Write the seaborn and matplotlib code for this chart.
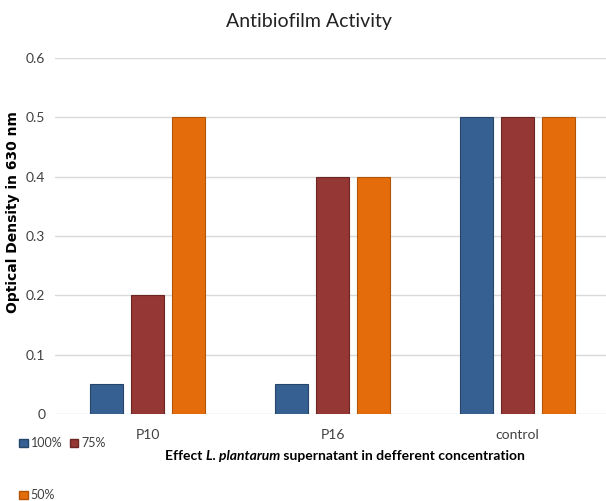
import matplotlib
matplotlib.use("Agg")
import matplotlib.pyplot as plt
import seaborn as sns
import pandas as pd
from matplotlib.patches import Patch

categories = ["P10", "P16", "control"]
series_names = ["100%", "75%", "50%"]
values_100 = [0.05, 0.05, 0.5]
values_75 = [0.2, 0.4, 0.5]
values_50 = [0.5, 0.4, 0.5]
yticks = [0, 0.1, 0.2, 0.3, 0.4, 0.5, 0.6]
ytick_labels = ["0", "0.1", "0.2", "0.3", "0.4", "0.5", "0.6"]

rows = []
for name, vals in zip(series_names, [values_100, values_75, values_50]):
    for c, v in zip(categories, vals):
        rows.append({"cat": c, "conc": name, "val": v})
df = pd.DataFrame(rows)

colors = ["#376092", "#953735", "#E46C0A"]
edges = ["#26456b", "#6b2624", "#b35508"]

sns.set_theme(style="white")
plt.rcParams["font.family"] = ["Lato", "DejaVu Sans"]

fig = plt.figure(figsize=(6.06, 5.01), dpi=100)
ax = fig.add_axes([55/606, 87/501, 555/606, 356/501])

sns.barplot(data=df, x="cat", y="val", hue="conc", hue_order=series_names,
            order=categories, palette=colors, width=0.665, gap=0.195,
            ax=ax, legend=False, saturation=1)

for i, cont in enumerate(ax.containers):
    for p in cont:
        p.set_edgecolor(edges[i])
        p.set_linewidth(0.8)

ax.set_ylim(0, 0.6)
ax.set_yticks(yticks)
ax.set_yticklabels(ytick_labels)
ax.set_xlim(-0.5, 2.5)
ax.yaxis.grid(True, color="#d9d9d9", linewidth=1)
ax.set_axisbelow(True)
for s in ax.spines.values():
    s.set_visible(False)
ax.tick_params(axis="y", length=0, pad=7, labelsize=10, labelcolor="#404040")
ax.tick_params(axis="x", length=0, pad=11, labelsize=10, labelcolor="#404040")
ax.set_xlabel("")
ax.set_ylabel("")

fig.text(13/606, 1 - 212/501, "Optical Density in 630 nm", rotation=90,
         ha="center", va="center", fontsize=10, fontweight="bold",
         color="black", family=["DejaVu Sans"])

fig.text(0.51, 1 - 22/501, "Antibiofilm Activity", ha="center", va="center",
         fontsize=14, color="#222222")

# x label with italic part
t1 = fig.text(165/606, 1 - 456/501, "Effect ", ha="left", va="center",
              fontsize=10, fontweight="bold", color="black")
t2 = ax.annotate("L. plantarum", xy=(1, 0), xycoords=t1, va="bottom", ha="left",
                 fontsize=10, fontweight="bold", style="italic", color="black",
                 annotation_clip=False)
t3 = ax.annotate(" supernatant in defferent concentration", xy=(1, 0), xycoords=t2,
                 va="bottom", ha="left", fontsize=10, fontweight="bold",
                 color="black", annotation_clip=False)

order = [0, 2, 1]
handles = [Patch(facecolor=colors[i], edgecolor=edges[i], label=series_names[i])
           for i in order]
fig.legend(handles=handles, loc="upper left", bbox_to_anchor=(8/606, 1 - 426/501),
           ncol=2, frameon=False, fontsize=9, handlelength=0.7, handleheight=0.7,
           handletextpad=0.2, columnspacing=0.6, labelspacing=3.2,
           labelcolor="#404040")

fig.savefig("out.png", dpi=100)
